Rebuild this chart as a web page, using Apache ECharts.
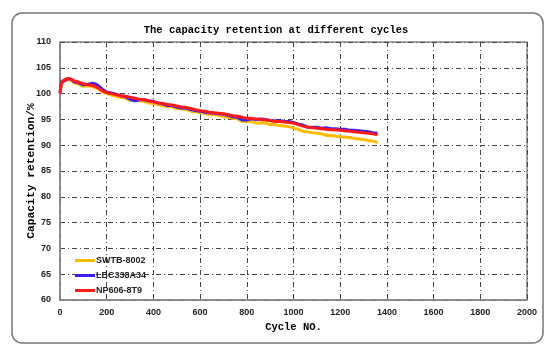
<!DOCTYPE html>
<html>
<head>
<meta charset="utf-8">
<script src="https://cdn.jsdelivr.net/npm/echarts@6/dist/echarts.min.js"></script>
<style>html,body{margin:0;padding:0;background:#fff}#c{width:552px;height:358px}</style>
</head>
<body>
<div id="c"></div>
<script>
var xTicks = [0,200,400,600,800,1000,1200,1400,1600,1800,2000];
var yTicks = [60,65,70,75,80,85,90,95,100,105,110];
var cycles = [0,5,10,20,30,40,50,60,80,100,120,140,160,180,200,220,240,260,280,300,320,340,360,380,400,420,440,460,480,500,520,540,560,580,600,620,640,660,680,700,720,740,760,780,800,820,840,860,880,900,920,940,960,980,1000,1020,1040,1060,1080,1100,1120,1140,1160,1180,1200,1220,1240,1260,1280,1300,1320,1340,1360];
var seriesNames = ['SWTB-8002','LBC338A34','NP606-8T9'];
var swtb = [100.0,101.5,102.1,102.5,102.7,102.6,102.5,102.1,101.8,101.4,101.5,101.3,101.0,100.4,100.0,99.7,99.5,99.3,99.1,98.7,98.8,98.6,98.5,98.2,98.1,97.9,97.6,97.5,97.4,97.1,97.0,96.9,96.6,96.5,96.3,96.2,95.9,95.9,95.8,95.5,95.4,95.2,95.1,94.6,94.6,94.6,94.3,94.3,94.3,94.0,94.0,93.8,93.7,93.6,93.3,93.1,92.7,92.6,92.4,92.3,92.2,91.9,91.9,91.8,91.6,91.6,91.5,91.3,91.2,91.1,90.9,90.8,90.5];
var lbc = [100.2,101.9,102.4,102.5,102.8,102.9,102.7,102.3,102.1,101.7,101.8,102.0,101.7,100.9,100.3,100.1,99.9,99.6,99.4,98.9,98.6,98.8,98.8,98.6,98.5,98.2,98.0,97.7,97.7,97.4,97.2,97.2,96.9,96.7,96.6,96.4,96.3,96.2,96.1,96.0,95.8,95.5,95.4,94.9,94.9,95.1,95.0,95.1,95.0,94.8,94.7,94.8,94.6,94.6,94.4,94.1,93.9,93.5,93.5,93.5,93.3,93.4,93.2,93.2,93.1,93.1,92.9,92.9,92.8,92.7,92.6,92.4,92.3];
var np = [100.0,101.8,102.3,102.7,102.9,102.9,102.7,102.5,102.2,101.9,101.7,101.6,101.2,100.6,100.2,100.0,99.8,99.6,99.5,99.3,99.1,98.9,98.8,98.6,98.4,98.2,98.1,97.9,97.8,97.6,97.4,97.3,97.1,96.9,96.7,96.6,96.4,96.3,96.2,96.1,95.9,95.7,95.6,95.4,95.2,95.2,95.1,95.0,94.9,94.8,94.6,94.6,94.5,94.4,94.3,94.0,93.7,93.5,93.4,93.3,93.2,93.1,93.0,93.0,92.9,92.8,92.7,92.6,92.5,92.4,92.3,92.2,92.0];
var colors = ['#ffbb00','#3a1ff5','#ff1a1a'];

function pairs(ys){ return cycles.map(function(c,i){ return [c, ys[i]]; }); }

var chart = echarts.init(document.getElementById('c'), null, {renderer:'canvas'});
var dash = [5,3,1,3];
var mono = '"Liberation Mono", monospace';
var sans = '"Liberation Sans", Arial, sans-serif';
chart.setOption({
  animation:false,
  backgroundColor:'#fff',
  title:{text:'The capacity retention at different cycles', left:'center', top:20,
    textStyle:{fontFamily:mono, fontSize:10.5, fontWeight:'bold', color:'#000'}},
  graphic:[{type:'rect', shape:{x:12,y:13,width:531,height:330,r:10}, style:{fill:'none', stroke:'#777', lineWidth:1.5}, z:-1}],
  legend:{orient:'vertical', left:70, top:251, itemWidth:20, itemHeight:3, itemGap:6, icon:'rect',
    data:seriesNames,
    textStyle:{fontFamily:sans, fontSize:9, fontWeight:'bold', color:'#222', padding:[0,0,0,-4]}},
  grid:{left:60, right:25, top:42, bottom:58, show:true, borderColor:'#888', borderWidth:1.5},
  xAxis:{type:'value', min:xTicks[0], max:xTicks[xTicks.length-1], interval:200,
    name:'Cycle NO.', nameLocation:'middle', nameGap:21,
    nameTextStyle:{fontFamily:mono, fontSize:10.5, fontWeight:'bold', color:'#000'},
    axisLine:{lineStyle:{color:'#888', width:1.5}}, axisTick:{show:false},
    axisLabel:{fontFamily:sans, fontSize:9, fontWeight:'bold', color:'#222', margin:8, formatter:function(v){return String(v);}},
    splitLine:{show:true, lineStyle:{color:'#444', width:1, type:dash}}},
  yAxis:{type:'value', min:yTicks[0], max:yTicks[yTicks.length-1], interval:5,
    name:'Capacity retention/%', nameLocation:'middle', nameGap:23, nameMoveOverlap:false,
    nameTextStyle:{fontFamily:mono, fontSize:11.3, fontWeight:'bold', color:'#000'},
    axisLine:{show:true, lineStyle:{color:'#888', width:1.5}}, axisTick:{show:false},
    axisLabel:{fontFamily:sans, fontSize:9, fontWeight:'bold', color:'#222', margin:9},
    splitLine:{show:true, lineStyle:{color:'#444', width:1, type:dash}}},
  series:[
    {name:seriesNames[0], type:'line', data:pairs(swtb), showSymbol:false, color:colors[0], lineStyle:{width:3}, z:2},
    {name:seriesNames[1], type:'line', data:pairs(lbc), showSymbol:false, color:colors[1], lineStyle:{width:3}, z:3},
    {name:seriesNames[2], type:'line', data:pairs(np), showSymbol:false, color:colors[2], lineStyle:{width:3}, z:4}
  ]
});
</script>
</body>
</html>
